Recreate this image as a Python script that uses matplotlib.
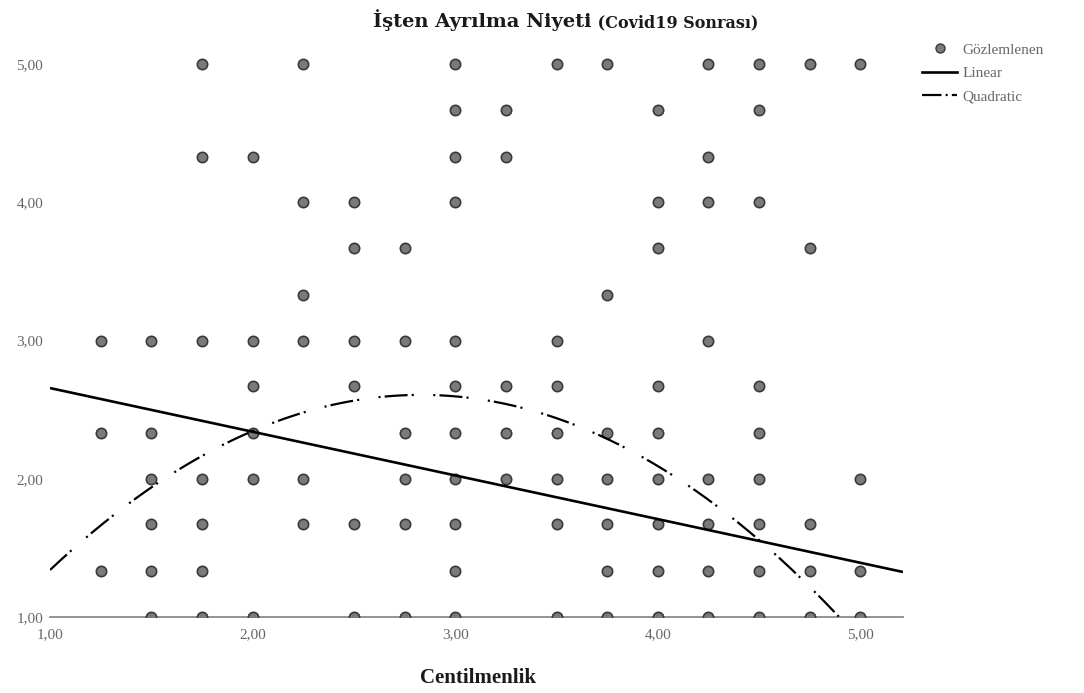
import numpy as np
import matplotlib
matplotlib.use("Agg")
import matplotlib.pyplot as plt
from matplotlib.lines import Line2D

plt.rcParams['font.family'] = ['Liberation Serif', 'DejaVu Serif']
plt.rcParams['lines.scale_dashes'] = False

# Observed scores: each row level of the outcome with the predictor values seen there
row_levels = [5.00, 4.67, 4.33, 4.00, 3.67, 3.33, 3.00, 2.67, 2.33, 2.00, 1.67, 1.33, 1.00]
row_x = [
    [1.75, 2.25, 3.00, 3.50, 3.75, 4.25, 4.50, 4.75, 5.00],
    [3.00, 3.25, 4.00, 4.50],
    [1.75, 2.00, 3.00, 3.25, 4.25],
    [2.25, 2.50, 3.00, 4.00, 4.25, 4.50],
    [2.50, 2.75, 4.00, 4.75],
    [2.25, 3.75],
    [1.25, 1.50, 1.75, 2.00, 2.25, 2.50, 2.75, 3.00, 3.50, 4.25],
    [2.00, 2.50, 3.00, 3.25, 3.50, 4.00, 4.50],
    [1.25, 1.50, 2.00, 2.75, 3.00, 3.25, 3.50, 3.75, 4.00, 4.50],
    [1.50, 1.75, 2.00, 2.25, 2.75, 3.00, 3.25, 3.50, 3.75, 4.00, 4.25, 4.50, 5.00],
    [1.50, 1.75, 2.25, 2.50, 2.75, 3.00, 3.50, 3.75, 4.00, 4.25, 4.50, 4.75],
    [1.25, 1.50, 1.75, 3.00, 3.75, 4.00, 4.25, 4.50, 4.75, 5.00],
    [1.50, 1.75, 2.00, 2.50, 2.75, 3.00, 3.50, 3.75, 4.00, 4.25, 4.50, 4.75, 5.00],
]

# Fitted curve coefficients (constant, b1, b2)
linear_coef = [2.972, -0.316]
quadratic_coef = [-0.4205, 2.138, -0.3775]

tick_values = [1, 2, 3, 4, 5]
tick_labels = ["1,00", "2,00", "3,00", "4,00", "5,00"]

title_main = "İşten Ayrılma Niyeti"
title_sub = " (Covid19 Sonrası)"
x_title = "Centilmenlik"
legend_labels = ["Gözlemlenen", "Linear", "Quadratic"]

xmin, xmax = 1.0, 5.21
ymin, ymax = 1.0, 5.15

W, H = 1084, 693
fig = plt.figure(figsize=(W / 100, H / 100), dpi=100)
fig.patch.set_facecolor("white")

left_px, right_px, bottom_px = 50, 903, 617
px_per_unit = 138.25
top_px = bottom_px - (ymax - ymin) * px_per_unit
ax = fig.add_axes([left_px / W, 1 - bottom_px / H,
                   (right_px - left_px) / W, (bottom_px - top_px) / H])
ax.set_xlim(xmin, xmax)
ax.set_ylim(ymin, ymax)

for s in ["top", "right", "left"]:
    ax.spines[s].set_visible(False)
ax.spines["bottom"].set_color("#8a8a8a")
ax.spines["bottom"].set_linewidth(1.3)
ax.spines["bottom"].set_zorder(1)

xs = np.concatenate([np.array(r, dtype=float) for r in row_x])
ys = np.concatenate([np.full(len(r), lvl) for r, lvl in zip(row_x, row_levels)])
ax.scatter(xs, ys, s=55, facecolor="#7a7a7a", edgecolor="#3a3a3a",
           linewidths=1.2, zorder=3, clip_on=True)

grid = np.linspace(xmin, xmax, 400)
ax.plot(grid, np.polyval(linear_coef[::-1], grid), color="black", lw=1.9,
        solid_capstyle="butt", zorder=4)
quad_dash = (0, (16.5, 3, 1.5, 14, 1.5, 3))
ax.plot(grid, np.polyval(quadratic_coef[::-1], grid), color="black", lw=1.6,
        linestyle=quad_dash, zorder=4)

ax.set_xticks(tick_values)
ax.set_xticklabels(tick_labels)
ax.set_yticks(tick_values)
ax.set_yticklabels(tick_labels)
ax.tick_params(axis="both", length=0, labelsize=11, labelcolor="#666666")
ax.tick_params(axis="x", pad=8)
ax.tick_params(axis="y", pad=5)

# Title in two sizes, set in a wide serif face
t1 = fig.text(373 / W, 1 - 27 / H, title_main, fontsize=14, fontweight="bold",
              family=["DejaVu Serif"], ha="left", va="baseline", color="#1a1a1a")
fig.canvas.draw()
ax.annotate(title_sub, xy=(1, 0), xycoords=t1, fontsize=11.5, fontweight="bold",
            family=["DejaVu Serif"], ha="left", va="bottom", color="#1a1a1a",
            annotation_clip=False)

fig.text(478 / W, 1 - 678 / H, x_title, fontsize=15, fontweight="bold",
         ha="center", va="center", color="#1a1a1a")

handles = [
    Line2D([], [], marker="o", linestyle="none", markersize=6.5,
           markerfacecolor="#7a7a7a", markeredgecolor="#3a3a3a"),
    Line2D([], [], color="black", lw=1.9),
    Line2D([], [], color="black", lw=1.6, linestyle=(0, (14, 3, 1.5, 3))),
]
leg = fig.legend(handles, legend_labels, loc="upper left",
                 bbox_to_anchor=(916 / W, 1 - 37 / H), frameon=False,
                 fontsize=11, handlelength=2.3, handletextpad=0.35,
                 labelspacing=0.62, borderaxespad=0)
for txt in leg.get_texts():
    txt.set_color("#666666")

fig.savefig("out.png", dpi=100, facecolor="white")
